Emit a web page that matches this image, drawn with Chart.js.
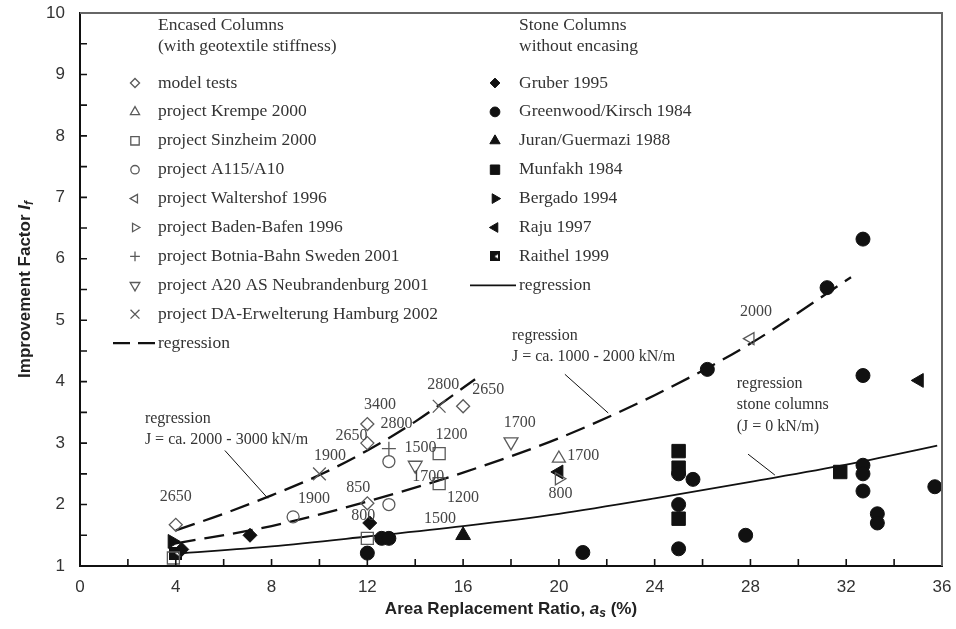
<!DOCTYPE html>
<html>
<head>
<meta charset="utf-8">
<script src="https://cdn.jsdelivr.net/npm/chart.js@4.4.0/dist/chart.umd.min.js"></script>
<style>
  html, body { margin: 0; padding: 0; background: #fff; }
  #wrap { width: 956px; height: 629px; }
</style>
</head>
<body>
<div id="wrap"><canvas id="chart"></canvas></div>
<script>
// Encased columns (with geotextile stiffness) - [area ratio %, improvement factor]
const modelTests = [[4, 1.67], [12, 3.31], [12, 3.0], [12, 2.02], [16, 3.6]];
const krempe = [[20, 2.75]];
const sinzheim = [[15, 2.83], [15, 2.34], [12, 1.45], [3.9, 1.13]];
const a115 = [[8.9, 1.8], [12.9, 2.7], [12.9, 2.0]];
const waltershof = [[28, 4.7]];
const badenBafen = [[20, 2.42]];
const botnia = [[12.9, 2.91]];
const a20 = [[14, 2.64], [18, 3.02]];
const hamburg = [[10, 2.5], [15, 3.6]];

// Stone columns without encasing
const gruber = [[4.25, 1.27], [7.1, 1.5], [12.1, 1.7]];
const greenwood = [[12, 1.21], [12.6, 1.45], [12.9, 1.45], [21, 1.22], [25, 2.5], [25, 2.0], [25, 1.28],
  [25.6, 2.41], [26.2, 4.2], [27.8, 1.5], [31.2, 5.53], [32.7, 6.32], [32.7, 4.1], [32.7, 2.64],
  [32.7, 2.5], [32.7, 2.22], [33.3, 1.85], [33.3, 1.7], [35.7, 2.29]];
const juran = [[16, 1.5]];
const munfakh = [[25, 2.87], [25, 2.6], [25, 1.77], [31.75, 2.53]];
const bergado = [[3.85, 1.4]];
const raju = [[20, 2.53], [35.05, 4.02]];
const raithel = [[4, 1.21]];

// regression curves
const regHigh = [[4, 1.58], [6, 1.85], [8, 2.15], [10, 2.48], [12, 2.88], [14, 3.35], [16.5, 4.04]];
const regMid = [[4, 1.37], [8, 1.65], [12, 2.05], [16, 2.52], [20, 3.08], [24, 3.78], [28, 4.62], [32.2, 5.7]];
const regStone = [[4, 1.2], [8, 1.32], [12, 1.48], [16, 1.65], [20, 1.85], [24, 2.1], [28, 2.37], [32, 2.65], [35.8, 2.96]];

// leader lines from the notes to the curves
const pointerA = [[6.05, 2.88], [7.85, 2.1]];
const pointerB = [[20.25, 4.12], [22.06, 3.49]];
const pointerC = [[27.9, 2.82], [29.02, 2.48]];

// geotextile stiffness labels beside the points
const labelText = ['2650', '1900', '1900', '3400', '2650', '2800', '850', '800', '1500', '1700',
  '1200', '1200', '2800', '2650', '1500', '1700', '1700', '800', '2000'];
const labelX = [4.0, 9.77, 10.44, 12.53, 11.34, 13.22, 11.62, 11.83, 14.22, 14.54,
  15.52, 16.0, 15.17, 17.05, 15.03, 18.37, 21.02, 20.07, 28.23];
const labelY = [2.13, 2.09, 2.8, 3.62, 3.12, 3.31, 2.28, 1.82, 2.92, 2.45,
  3.13, 2.11, 3.95, 3.87, 1.77, 3.33, 2.8, 2.18, 5.14];

// notes on the regression curves
const noteText = ['regression', 'J = ca. 2000 - 3000 kN/m', 'regression', 'J = ca. 1000 - 2000 kN/m',
  'regression', 'stone columns', '(J = 0 kN/m)'];
const noteX = [2.71, 2.71, 18.04, 18.04, 27.43, 27.43, 27.43];
const noteY = [3.4, 3.05, 4.74, 4.4, 3.97, 3.63, 3.26];

const xTicks = [0, 4, 8, 12, 16, 20, 24, 28, 32, 36];
const yTicks = [1, 2, 3, 4, 5, 6, 7, 8, 9, 10];

const OPEN = '#5a5a5a';
const FILL = '#111';
const SERIF = '"Liberation Serif", "Times New Roman", serif';
const SANS = '"Liberation Sans", Arial, sans-serif';

const toXY = pairs => pairs.map(([x, y]) => ({ x: x, y: y }));

// half filled square for Raithel 1999
function raithelIcon(size) {
  const c = document.createElement('canvas');
  c.width = size; c.height = size;
  const g = c.getContext('2d');
  g.fillStyle = FILL;
  g.fillRect(0, 0, size, size);
  g.fillStyle = '#fff';
  g.beginPath();
  g.moveTo(size - 2, 3);
  g.lineTo(size * 0.45, size / 2);
  g.lineTo(size - 2, size - 3);
  g.closePath();
  g.fill();
  return c;
}

function openSet(label, data, style, radius, rotation) {
  return {
    label: label, group: 'encased', data: toXY(data),
    pointStyle: style, pointRadius: radius, pointRotation: rotation || 0,
    backgroundColor: 'rgba(255,255,255,0)', borderColor: OPEN, borderWidth: 1.3
  };
}

function filledSet(label, data, style, radius, rotation) {
  return {
    label: label, group: 'stone', data: toXY(data),
    pointStyle: style, pointRadius: radius, pointRotation: rotation || 0,
    backgroundColor: FILL, borderColor: FILL, borderWidth: 1
  };
}

function lineSet(label, group, data, dash, width, noLegend) {
  return {
    label: label, group: group, noLegend: noLegend, data: toXY(data),
    showLine: true, pointRadius: 0, borderColor: FILL, borderWidth: width,
    borderDash: dash, tension: 0.4, cubicInterpolationMode: 'monotone', fill: false
  };
}

const datasets = [
  openSet('model tests', modelTests, 'rectRot', 6.5),
  openSet('project Krempe 2000', krempe, 'triangle', 7.5),
  openSet('project Sinzheim 2000', sinzheim, 'rect', 8.5),
  openSet('project A115/A10', a115, 'circle', 6),
  openSet('project Waltershof 1996', waltershof, 'triangle', 7, -90),
  openSet('project Baden-Bafen 1996', badenBafen, 'triangle', 7, 90),
  openSet('project Botnia-Bahn Sweden 2001', botnia, 'cross', 7),
  openSet('project A20 AS Neubrandenburg 2001', a20, 'triangle', 8, 180),
  openSet('project DA-Erwelterung Hamburg 2002', hamburg, 'crossRot', 9),
  filledSet('Gruber 1995', gruber, 'rectRot', 7),
  filledSet('Greenwood/Kirsch 1984', greenwood, 'circle', 7),
  filledSet('Juran/Guermazi 1988', juran, 'triangle', 8.5),
  filledSet('Munfakh 1984', munfakh, 'rect', 9.5),
  filledSet('Bergado 1994', bergado, 'triangle', 8, 90),
  filledSet('Raju 1997', raju, 'triangle', 8, -90),
  filledSet('Raithel 1999', raithel, raithelIcon(13), 7),
  lineSet('regression', 'encased', regHigh, [20, 9], 2.3, false),
  lineSet('regression', 'encased', regMid, [20, 9], 2.3, true),
  lineSet('regression', 'stone', regStone, [], 1.8, false),
  lineSet('', 'none', pointerA, [], 1, true),
  lineSet('', 'none', pointerB, [], 1, true),
  lineSet('', 'none', pointerC, [], 1, true)
];

// inward tick marks and the grey top / right frame
const framePlugin = {
  id: 'frame',
  afterDatasetsDraw(chart) {
    const { ctx, chartArea: a, scales: { x, y } } = chart;
    ctx.save();
    ctx.strokeStyle = '#666';
    ctx.lineWidth = 2;
    ctx.beginPath();
    ctx.moveTo(a.left, a.top);
    ctx.lineTo(a.right, a.top);
    ctx.lineTo(a.right, a.bottom);
    ctx.stroke();
    ctx.strokeStyle = '#111';
    ctx.lineWidth = 1.6;
    ctx.beginPath();
    for (let v = 2; v < 36; v += 2) {
      const px = x.getPixelForValue(v);
      ctx.moveTo(px, a.bottom);
      ctx.lineTo(px, a.bottom - 7);
    }
    for (let v = 1.5; v < 10; v += 0.5) {
      const py = y.getPixelForValue(v);
      ctx.moveTo(a.left, py);
      ctx.lineTo(a.left + 7, py);
    }
    ctx.stroke();
    ctx.restore();
  }
};

// stiffness labels and notes
const textPlugin = {
  id: 'notes',
  afterDatasetsDraw(chart) {
    const { ctx, scales: { x, y } } = chart;
    ctx.save();
    ctx.fillStyle = '#444';
    ctx.textBaseline = 'middle';
    ctx.font = '16px ' + SERIF;
    ctx.textAlign = 'center';
    labelText.forEach((t, i) => ctx.fillText(t, x.getPixelForValue(labelX[i]), y.getPixelForValue(labelY[i])));
    ctx.textAlign = 'left';
    ctx.fillStyle = '#333';
    noteText.forEach((t, i) => ctx.fillText(t, x.getPixelForValue(noteX[i]), y.getPixelForValue(noteY[i])));
    ctx.restore();
  }
};

// two column legend with headings
const legendPlugin = {
  id: 'twoColumns',
  afterDraw(chart) {
    const ctx = chart.ctx;
    const cols = [
      { group: 'encased', head: ['Encased Columns', '(with geotextile stiffness)'], mx: 135, tx: 158, lx: 113 },
      { group: 'stone', head: ['Stone Columns', 'without encasing'], mx: 495, tx: 519, lx: 470 }
    ];
    ctx.save();
    ctx.textBaseline = 'middle';
    ctx.textAlign = 'left';
    ctx.font = '17.5px ' + SERIF;
    cols.forEach(col => {
      ctx.fillStyle = '#333';
      ctx.fillText(col.head[0], col.tx, 25);
      ctx.fillText(col.head[1], col.tx, 46);
      let yy = 83;
      chart.data.datasets.forEach(ds => {
        if (ds.group !== col.group || ds.noLegend) return;
        ctx.save();
        ctx.strokeStyle = ds.borderColor;
        ctx.fillStyle = ds.backgroundColor || ds.borderColor;
        if (ds.showLine) {
          ctx.lineWidth = ds.borderWidth;
          ctx.setLineDash(ds.borderDash.length ? [17, 8] : []);
          ctx.beginPath();
          ctx.moveTo(col.lx, yy);
          ctx.lineTo(col.tx - 3, yy);
          ctx.stroke();
        } else {
          ctx.lineWidth = ds.borderWidth;
          const style = ds.pointStyle;
          const pt = typeof style === 'string' ? style : raithelIcon(10);
          Chart.helpers.drawPoint(ctx, {
            pointStyle: pt, radius: ds.pointRadius * 0.7,
            rotation: ds.pointRotation, borderWidth: ds.borderWidth
          }, col.mx, yy);
        }
        ctx.restore();
        ctx.fillStyle = '#333';
        ctx.fillText(ds.label, col.tx, yy);
        yy += 28.9;
      });
    });
    ctx.restore();
  }
};

function drawRich(ctx, parts, cx, cy) {
  let total = 0;
  parts.forEach(p => { ctx.font = p.font; p.w = ctx.measureText(p.t).width; total += p.w; });
  let px = cx - total / 2;
  parts.forEach(p => { ctx.font = p.font; ctx.fillText(p.t, px, cy + (p.dy || 0)); px += p.w; });
}

// axis titles with italic symbols and subscripts
const titlePlugin = {
  id: 'axisTitles',
  afterDraw(chart) {
    const { ctx, chartArea: a } = chart;
    ctx.save();
    ctx.fillStyle = '#222';
    ctx.textBaseline = 'middle';
    ctx.textAlign = 'left';
    drawRich(ctx, [
      { t: 'Area Replacement Ratio, ', font: 'bold 17px ' + SANS },
      { t: 'a', font: 'italic bold 17px ' + SANS },
      { t: 's', font: 'italic bold 12px ' + SANS, dy: 5 },
      { t: ' (%)', font: 'bold 17px ' + SANS }
    ], (a.left + a.right) / 2, 609);
    ctx.translate(25, (a.top + a.bottom) / 2);
    ctx.rotate(-Math.PI / 2);
    drawRich(ctx, [
      { t: 'Improvement Factor ', font: 'bold 17px ' + SANS },
      { t: 'I', font: 'italic bold 17px ' + SANS },
      { t: 'f', font: 'italic bold 12px ' + SANS, dy: 5 }
    ], 0, 0);
    ctx.restore();
  }
};

document.addEventListener('DOMContentLoaded', function () {
  const ctx = document.getElementById('chart').getContext('2d');
  new Chart(ctx, {
    type: 'scatter',
    data: { datasets: datasets },
    plugins: [framePlugin, textPlugin, legendPlugin, titlePlugin],
    options: {
      responsive: true,
      maintainAspectRatio: false,
      animation: false,
      events: [],
      layout: { padding: { top: 13, right: 14, left: 0, bottom: 0 } },
      plugins: { legend: { display: false }, tooltip: { enabled: false } },
      scales: {
        x: {
          type: 'linear', min: 0, max: 36,
          afterFit: s => { s.height = 63; s.paddingLeft = 0; s.paddingRight = 0; },
          afterBuildTicks: s => { s.ticks = xTicks.map(v => ({ value: v })); },
          grid: { display: false, drawTicks: false },
          border: { color: '#111', width: 2 },
          ticks: { padding: 11, color: '#333', font: { family: SANS, size: 17 }, maxRotation: 0 }
        },
        y: {
          type: 'linear', min: 1, max: 10,
          afterFit: s => { s.width = 80; s.paddingTop = 0; s.paddingBottom = 0; },
          afterBuildTicks: s => { s.ticks = yTicks.map(v => ({ value: v })); },
          grid: { display: false, drawTicks: false },
          border: { color: '#111', width: 2 },
          ticks: { padding: 15, color: '#333', font: { family: SANS, size: 17 } }
        }
      }
    }
  });
});
</script>
</body>
</html>
